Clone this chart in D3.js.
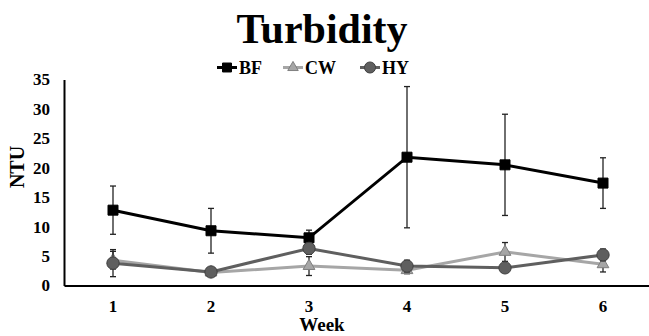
<!DOCTYPE html>
<html>
<head>
<meta charset="utf-8">
<script src="https://cdn.jsdelivr.net/npm/d3@7"></script>
<style>
  body { margin: 0; background: #fff; }
  svg { display: block; font-family: "Liberation Serif", "Times New Roman", serif; font-weight: bold; }
</style>
</head>
<body>
<svg id="chart" width="649" height="336"></svg>
<script>
// data
const weeks = ["1", "2", "3", "4", "5", "6"];
const bfValues = [12.8, 9.3, 8.1, 21.8, 20.5, 17.4];
const bfErrors = [4.1, 3.8, 1.3, 12.0, 8.6, 4.3];
const cwValues = [4.3, 2.2, 3.3, 2.6, 5.7, 3.6];
const cwErrors = [1.5, 0.3, 1.6, 0.6, 1.6, 1.3];
const hyValues = [3.8, 2.3, 6.3, 3.3, 3.0, 5.2];
const hyErrors = [2.3, 0.3, 1.0, 1.0, 0.6, 1.0];
const yTicks = [0, 5, 10, 15, 20, 25, 30, 35];

const series = [
    { name: "BF", values: bfValues, errors: bfErrors, line: "#000000", fill: "#000000", stroke: "#000000", symbol: d3.symbolSquare, size: 100 },
    { name: "CW", values: cwValues, errors: cwErrors, line: "#a6a6a6", fill: "#a6a6a6", stroke: "#7f7f7f", symbol: d3.symbolTriangle, size: 60 },
    { name: "HY", values: hyValues, errors: hyErrors, line: "#5f5f5f", fill: "#5f5f5f", stroke: "#404040", symbol: d3.symbolCircle, size: 120 }
];

const svg = d3.select("#chart");
const x = d3.scaleBand().domain(weeks).range([64, 652]);
const y = d3.scaleLinear().domain([0, 35]).range([285.5, 79.5]);
const cx = w => x(w) + x.bandwidth() / 2;

// title
svg.append("text")
    .attr("x", 322).attr("y", 43)
    .attr("text-anchor", "middle")
    .style("font-size", "42px")
    .text("Turbidity");

// y axis
const yAxis = svg.append("g")
    .attr("transform", "translate(64,0)")
    .call(d3.axisLeft(y).tickValues(yTicks).tickSize(0).tickPadding(14));
yAxis.select(".domain").attr("stroke", "#000").attr("stroke-width", 2);
yAxis.selectAll("text")
    .attr("fill", "#000")
    .style("font-size", "17px")
    .style("font-family", "Liberation Serif, serif")
    .style("font-weight", "bold");

// x axis
const xAxis = svg.append("g")
    .attr("transform", "translate(0,285.5)")
    .call(d3.axisBottom(x).tickSize(0).tickPadding(14));
xAxis.select(".domain").attr("stroke", "#000").attr("stroke-width", 2);
xAxis.selectAll("text")
    .attr("fill", "#000")
    .style("font-size", "17px")
    .style("font-family", "Liberation Serif, serif")
    .style("font-weight", "bold");

// axis titles
svg.append("text")
    .attr("transform", "translate(24,167) rotate(-90)")
    .attr("text-anchor", "middle")
    .style("font-size", "20px")
    .text("NTU");

svg.append("text")
    .attr("x", 322).attr("y", 331)
    .attr("text-anchor", "middle")
    .style("font-size", "19px")
    .text("Week");

const line = d3.line()
    .x((d, i) => cx(weeks[i]))
    .y(d => y(d));

series.forEach(s => {
    const g = svg.append("g").attr("class", "series");

    // error bars
    const eb = g.selectAll(".err")
        .data(s.values.map((v, i) => ({ week: weeks[i], v, e: s.errors[i] })))
        .enter().append("g")
        .attr("class", "err")
        .attr("stroke", "#222")
        .attr("stroke-width", 1.3);
    eb.append("line")
        .attr("x1", d => cx(d.week)).attr("x2", d => cx(d.week))
        .attr("y1", d => y(d.v - d.e)).attr("y2", d => y(d.v + d.e));
    eb.append("line")
        .attr("x1", d => cx(d.week) - 3).attr("x2", d => cx(d.week) + 3)
        .attr("y1", d => y(d.v + d.e)).attr("y2", d => y(d.v + d.e));
    eb.append("line")
        .attr("x1", d => cx(d.week) - 3).attr("x2", d => cx(d.week) + 3)
        .attr("y1", d => y(d.v - d.e)).attr("y2", d => y(d.v - d.e));

    g.append("path")
        .datum(s.values)
        .attr("fill", "none")
        .attr("stroke", s.line)
        .attr("stroke-width", 3)
        .attr("d", line);

    g.selectAll(".mark")
        .data(s.values)
        .enter().append("path")
        .attr("class", "mark")
        .attr("transform", (d, i) => `translate(${cx(weeks[i])},${y(d)})`)
        .attr("d", d3.symbol().type(s.symbol).size(s.size))
        .attr("fill", s.fill)
        .attr("stroke", s.stroke)
        .attr("stroke-width", 1);
});

// legend
const legendX = [217, 283, 360];
const legend = svg.selectAll(".legend")
    .data(series)
    .enter().append("g")
    .attr("class", "legend")
    .attr("transform", (d, i) => `translate(${legendX[i]},67.5)`);
legend.append("line")
    .attr("x1", 0).attr("x2", 20)
    .attr("stroke", d => d.line)
    .attr("stroke-width", 3);
legend.append("path")
    .attr("transform", "translate(10,0)")
    .attr("d", d => d3.symbol().type(d.symbol).size(d.size * 0.8)())
    .attr("fill", d => d.fill)
    .attr("stroke", d => d.stroke);
legend.append("text")
    .attr("x", 22).attr("y", 6.5)
    .style("font-size", "18px")
    .text(d => d.name);
</script>
</body>
</html>
